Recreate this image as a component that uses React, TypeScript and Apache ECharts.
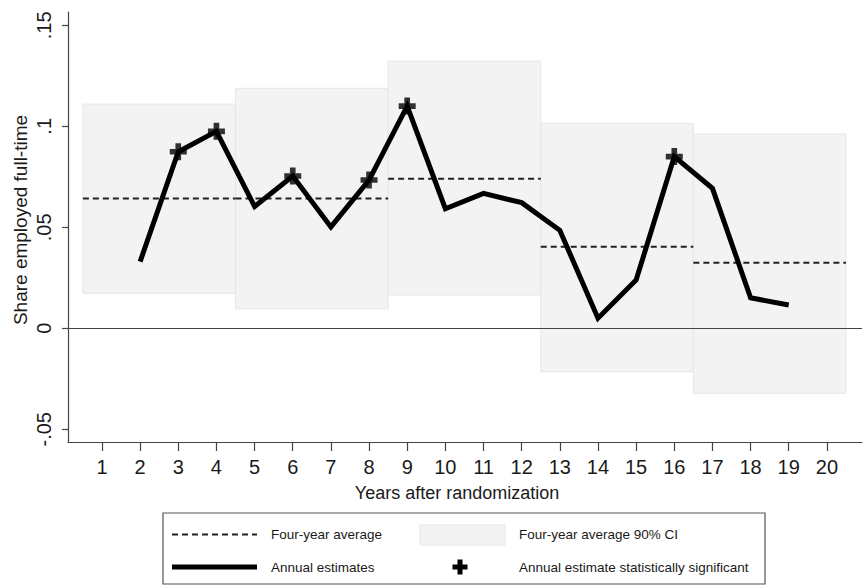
import React, { useEffect, useRef } from "react";
import * as echarts from "echarts";

const years = [2, 3, 4, 5, 6, 7, 8, 9, 10, 11, 12, 13, 14, 15, 16, 17, 18, 19];
const estimates = [0.033, 0.0874, 0.0975, 0.0603, 0.0754, 0.0502, 0.0734, 0.110, 0.0592, 0.0668, 0.0622, 0.0485, 0.005, 0.0239, 0.085, 0.0693, 0.0151, 0.0115];
const sigYears = [3, 4, 6, 8, 9, 16];
const periodStart = [0.5, 4.5, 8.5, 12.5, 16.5];
const periodEnd = [4.5, 8.5, 12.5, 16.5, 20.5];
const periodAvg = [0.0643, 0.0643, 0.0741, 0.0404, 0.0325];
const ciLow = [0.0173, 0.0096, 0.0165, -0.0215, -0.0322];
const ciHigh = [0.111, 0.1188, 0.1323, 0.1015, 0.0962];
const xTicks = [1, 2, 3, 4, 5, 6, 7, 8, 9, 10, 11, 12, 13, 14, 15, 16, 17, 18, 19, 20];
const yTicks = [-0.05, 0, 0.05, 0.1, 0.15];
const yTickLabels = ["-.05", "0", ".05", ".1", ".15"];

const FONT = "'Liberation Sans', Arial, sans-serif";
const PLUS = "path://M5,0H10V5H15V10H10V15H5V10H0V5H5Z";

export default function App() {
  const ref = useRef<HTMLDivElement>(null);
  useEffect(() => {
    document.body.style.margin = "0";
    const chart = echarts.init(ref.current!, null, { renderer: "svg" });
    const estMap: Record<number, number> = {};
    years.forEach((y, i) => (estMap[y] = estimates[i]));
    const boxes = periodStart.map((s, i) => [s, periodEnd[i], ciLow[i], ciHigh[i]]);
    const avgs = periodStart.map((s, i) => [s, periodEnd[i], periodAvg[i]]);
    const option: any = {
      animation: false,
      backgroundColor: "#ffffff",
      textStyle: { fontFamily: FONT },
      grid: { left: 68, right: 2, top: 12, bottom: 144, containLabel: false },
      xAxis: {
        type: "value",
        min: 0.11,
        max: 20.92,
        splitLine: { show: false },
        axisLine: { show: true, onZero: false, lineStyle: { color: "#444", width: 1.2 } },
        axisTick: { show: true, length: 9, lineStyle: { color: "#444", width: 1.2 }, customValues: xTicks },
        axisLabel: { show: true, fontSize: 20, color: "#1a1a1a", margin: 15, fontFamily: FONT, customValues: xTicks },
      },
      yAxis: {
        type: "value",
        min: -0.0563,
        max: 0.1566,
        splitLine: { show: false },
        axisLine: { show: true, onZero: false, lineStyle: { color: "#444", width: 1.2 } },
        axisTick: { show: true, length: 6, lineStyle: { color: "#444", width: 1.2 }, customValues: yTicks },
        axisLabel: {
          show: true,
          fontSize: 20,
          color: "#1a1a1a",
          rotate: 90,
          margin: 14,
          fontFamily: FONT,
          customValues: yTicks,
          formatter: (v: number) => {
            const idx = yTicks.findIndex((t) => Math.abs(t - v) < 1e-9);
            return idx >= 0 ? yTickLabels[idx] : "";
          },
        },
      },
      series: [
        {
          type: "custom",
          name: "Four-year average 90% CI",
          z: 1,
          data: boxes,
          renderItem: (params: any, api: any) => {
            const p0 = api.coord([api.value(0), api.value(3)]);
            const p1 = api.coord([api.value(1), api.value(2)]);
            return {
              type: "rect",
              shape: { x: p0[0], y: p0[1], width: p1[0] - p0[0], height: p1[1] - p0[1] },
              style: { fill: "#f3f3f3", stroke: "#e6e6e6", lineWidth: 1 },
            };
          },
        },
        {
          type: "custom",
          name: "Four-year average",
          z: 3,
          data: avgs,
          renderItem: (params: any, api: any) => {
            const p0 = api.coord([api.value(0), api.value(2)]);
            const p1 = api.coord([api.value(1), api.value(2)]);
            return {
              type: "line",
              shape: { x1: p0[0], y1: p0[1], x2: p1[0], y2: p1[1] },
              style: { stroke: "#222", lineWidth: 2, lineDash: [6, 4] },
            };
          },
        },
        {
          type: "line",
          name: "zero",
          z: 2,
          data: [],
          markLine: {
            silent: true,
            symbol: "none",
            label: { show: false },
            lineStyle: { color: "#444", width: 1.2, type: "solid" },
            data: [{ yAxis: 0 }],
          },
        },
        {
          type: "line",
          name: "Annual estimates",
          z: 4,
          data: years.map((y, i) => [y, estimates[i]]),
          showSymbol: false,
          symbol: "none",
          lineStyle: { color: "#000", width: 5, join: "miter" },
        },
        {
          type: "scatter",
          name: "Annual estimate statistically significant",
          z: 5,
          data: sigYears.map((y) => [y, estMap[y]]),
          symbol: PLUS,
          symbolSize: 17,
          itemStyle: { color: "#000" },
        },
      ],
      graphic: [
        {
          type: "text",
          x: 457,
          y: 493,
          style: { text: "Years after randomization", fontSize: 18, fill: "#1a1a1a", font: `18px ${FONT}`, textAlign: "center", textVerticalAlign: "middle" },
        },
        {
          type: "text",
          x: 20,
          y: 220,
          rotation: Math.PI / 2,
          style: { text: "Share employed full-time", fontSize: 19, fill: "#1a1a1a", font: `19px ${FONT}`, textAlign: "center", textVerticalAlign: "middle" },
        },
        {
          type: "rect",
          shape: { x: 163, y: 513, width: 602, height: 71 },
          style: { fill: "#fff", stroke: "#555", lineWidth: 1.2 },
        },
        {
          type: "line",
          shape: { x1: 172, y1: 534.5, x2: 257, y2: 534.5 },
          style: { stroke: "#222", lineWidth: 2, lineDash: [6, 4] },
        },
        {
          type: "text",
          x: 271,
          y: 534.5,
          style: { text: "Four-year average", font: `13.5px ${FONT}`, fill: "#1a1a1a", textVerticalAlign: "middle" },
        },
        {
          type: "rect",
          shape: { x: 420, y: 525, width: 85, height: 20 },
          style: { fill: "#f3f3f3", stroke: "#e6e6e6", lineWidth: 1 },
        },
        {
          type: "text",
          x: 519,
          y: 534.5,
          style: { text: "Four-year average 90% CI", font: `13.5px ${FONT}`, fill: "#1a1a1a", textVerticalAlign: "middle" },
        },
        {
          type: "line",
          shape: { x1: 172, y1: 567, x2: 257, y2: 567 },
          style: { stroke: "#000", lineWidth: 5 },
        },
        {
          type: "text",
          x: 271,
          y: 567,
          style: { text: "Annual estimates", font: `13.5px ${FONT}`, fill: "#1a1a1a", textVerticalAlign: "middle" },
        },
        {
          type: "polygon",
          shape: {
            points: [
              [457.5, 559.5], [462.5, 559.5], [462.5, 564.5], [467.5, 564.5], [467.5, 569.5], [462.5, 569.5],
              [462.5, 574.5], [457.5, 574.5], [457.5, 569.5], [452.5, 569.5], [452.5, 564.5], [457.5, 564.5],
            ],
          },
          style: { fill: "#000" },
        },
        {
          type: "text",
          x: 519,
          y: 567,
          style: { text: "Annual estimate statistically significant", font: `13.5px ${FONT}`, fill: "#1a1a1a", textVerticalAlign: "middle" },
        },
      ],
    };
    chart.setOption(option);
    return () => chart.dispose();
  }, []);
  return <div ref={ref} style={{ width: 864, height: 586 }} />;
}
